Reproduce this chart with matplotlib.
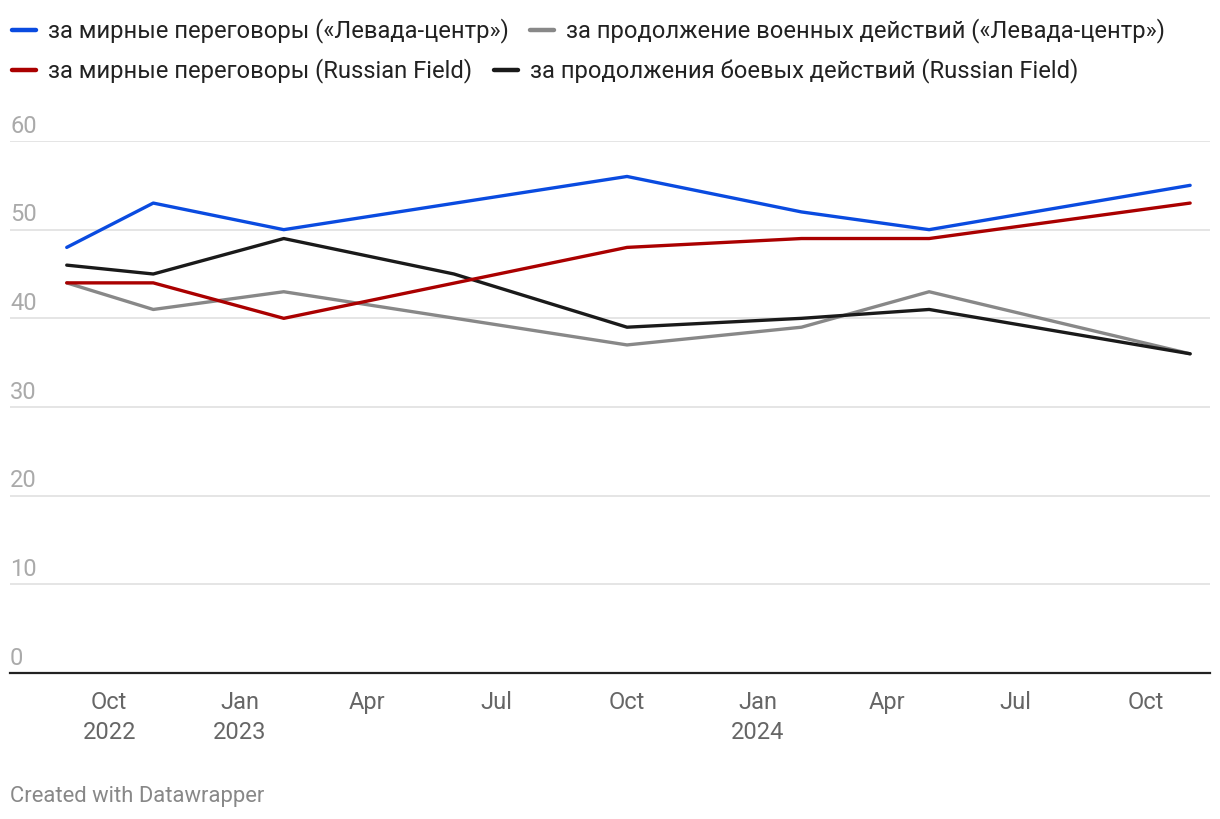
import pandas as pd
import matplotlib.pyplot as plt
from matplotlib.lines import Line2D
from matplotlib.transforms import blended_transform_factory, offset_copy

plt.rcParams['font.family'] = ['Roboto', 'DejaVu Sans']

# survey dates and shares (%)
dates = pd.to_datetime(['2022-09-01', '2022-11-01', '2023-02-01', '2023-06-01',
                        '2023-10-01', '2024-02-01', '2024-05-01', '2024-11-01'])
levada_peace = [48, 53, 50, None, 56, 52, 50, 55]
levada_war = [44, 41, 43, None, 37, 39, 43, 36]
rf_peace = [44, 44, 40, None, 48, 49, 49, 53]
rf_war = [46, 45, 49, 45, 39, 40, 41, 36]

labels = ['за мирные переговоры («Левада-центр»)',
          'за продолжение военных действий («Левада-центр»)',
          'за мирные переговоры (Russian Field)',
          'за продолжения боевых действий (Russian Field)']
colors = ['#0a4be0', '#888888', '#aa0000', '#1a1a1a']

y_ticks = [0, 10, 20, 30, 40, 50, 60]
x_ticks = pd.to_datetime(['2022-10-01', '2023-01-01', '2023-04-01', '2023-07-01', '2023-10-01',
                          '2024-01-01', '2024-04-01', '2024-07-01', '2024-10-01'])
x_labels = ['Oct\n2022', 'Jan\n2023', 'Apr', 'Jul', 'Oct', 'Jan\n2024', 'Apr', 'Jul', 'Oct']

fig = plt.figure(figsize=(12.2, 8.2), dpi=100)
ax = fig.add_axes([10 / 1220, 1 - 674 / 820, 1200 / 1220, (674 - 142) / 820])

series = [levada_peace, levada_war, rf_peace, rf_war]
# gray and black underneath
order = [1, 3, 2, 0]
for i in order:
    s = pd.Series(series[i], index=dates, dtype=float).dropna()
    ax.plot(s.index, s.values, color=colors[i], lw=2.4, solid_capstyle='round',
            solid_joinstyle='round', zorder=3)

ax.set_ylim(0, 60)
ax.set_xlim(pd.Timestamp('2022-07-23'), pd.Timestamp('2024-11-15'))

for v in y_ticks[1:]:
    ax.axhline(v, color='#e3e3e3', lw=1.3, zorder=1)
ax.axhline(0, color='#222222', lw=1.6, zorder=4, clip_on=False)

trans = offset_copy(blended_transform_factory(ax.transAxes, ax.transData), fig=fig, x=0, y=3, units='points')
for v in y_ticks:
    ax.text(0, v, str(v), transform=trans, ha='left', va='bottom', fontsize=17, color='#aaaaaa')

ax.set_yticks([])
ax.set_xticks(x_ticks)
ax.set_xticklabels(x_labels, fontsize=17, color='#666666', linespacing=1.4)
ax.tick_params(axis='x', length=0, pad=12)
for sp in ax.spines.values():
    sp.set_visible(False)

# legend, laid out inline like the original
legend_pos = [(12, 31), (530, 31), (12, 71), (494, 71)]
for (px, py), lab, c in zip(legend_pos, labels, colors):
    fy = 1 - py / 820
    fig.add_artist(Line2D([px / 1220, (px + 24) / 1220], [fy, fy], color=c, lw=3.2,
                          solid_capstyle='round', transform=fig.transFigure))
    fig.text((px + 36) / 1220, fy, lab, fontsize=17.1, color='#222222', va='center', ha='left')

fig.text(10 / 1220, 1 - 797 / 820, 'Created with Datawrapper', fontsize=15.8, color='#888888',
         va='center', ha='left')

fig.savefig('out.png', dpi=100)
